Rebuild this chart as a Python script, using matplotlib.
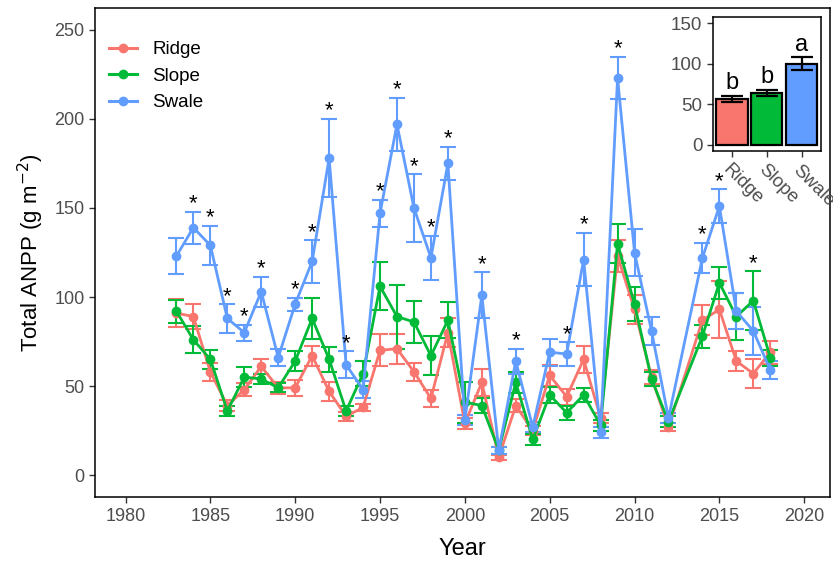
import matplotlib
matplotlib.use("Agg")
import matplotlib.pyplot as plt
from matplotlib.lines import Line2D
import numpy as np

plt.rcParams["font.family"] = ["Liberation Sans", "DejaVu Sans"]

years = [1983, 1984, 1985, 1986, 1987, 1988, 1989, 1990, 1991, 1992, 1993, 1994,
         1995, 1996, 1997, 1998, 1999, 2000, 2001, 2002, 2003, 2004, 2005, 2006,
         2007, 2008, 2009, 2010, 2011, 2012, 2014, 2015, 2016, 2017, 2018]

ridge = [91, 89, 58, 39, 48, 61, 49, 49, 67, 47, 33, 38,
         70, 71, 58, 43, 80, 29, 52, 10, 39, 25, 56, 44,
         65, 32, 123, 93, 55, 27, 87, 93, 64, 57, 69]
ridge_se = [8, 7, 5, 3, 3.5, 4, 3.5, 4.5, 5.5, 5.5, 2.5, 2,
            9, 8.5, 5, 4.5, 8, 3, 7.5, 1.5, 3.5, 2.5, 6, 4.5,
            7.5, 3, 9, 8, 4, 2.5, 8.5, 16, 5.5, 8, 6.5]

slope = [92, 76, 65, 36, 55, 54, 49, 64, 88, 65, 36, 57,
         106, 89, 86, 67, 87, 41, 39, 14, 52, 20, 45, 35,
         45, 28, 130, 96, 54, 30, 78, 108, 89, 98, 66]
slope_se = [6.5, 7.5, 5.5, 3, 5.5, 3, 2.5, 5.5, 11.5, 7, 3, 7,
            13.5, 18, 12, 11, 10, 11.5, 4, 2, 6, 3, 4.5, 4,
            4, 3, 11, 9.5, 4, 3, 6.5, 9, 13, 16.5, 4.5]

swale = [123, 139, 129, 88, 80, 103, 66, 96, 120, 178, 62, 48,
         147, 197, 150, 122, 175, 31, 101, 14, 64, 27, 69, 68,
         121, 24, 223, 125, 81, 32, 122, 151, 92, 81, 59]
swale_se = [10, 9, 11, 8, 4.5, 8.5, 5, 3.7, 12, 22, 7.5, 5,
            7.5, 15, 19, 12.5, 9.5, 3, 13, 2, 7, 3, 7.5, 6.5,
            15, 3, 12, 13, 8, 3, 8.5, 9.5, 10, 13.5, 5]

star_years = [1984, 1985, 1986, 1987, 1988, 1990, 1991, 1992, 1993, 1995, 1996,
              1997, 1998, 1999, 2001, 2003, 2006, 2007, 2009, 2014, 2015, 2017]

# inset: overall means
zones = ["Ridge", "Slope", "Swale"]
zone_mean = [57, 64, 100]
zone_se = [3.5, 4, 8]
zone_letters = ["b", "b", "a"]

colors = {"Ridge": "#F8766D", "Slope": "#00BA38", "Swale": "#619CFF"}
txt_gray = "#4D4D4D"

fig = plt.figure(figsize=(8.33, 5.63), dpi=100)
ax = fig.add_axes([0.114, 0.117, 0.882, 0.869])

series = [("Ridge", ridge, ridge_se), ("Slope", slope, slope_se), ("Swale", swale, swale_se)]
handles = []
for name, vals, se in series:
    ax.errorbar(years, vals, yerr=se, color=colors[name], lw=2, marker="o",
                markersize=6, capsize=6, capthick=1.5, elinewidth=1.5)
    handles.append(Line2D([], [], color=colors[name], lw=2.2, marker="o", markersize=6))

# asterisks above the highest error bar of each marked year
for yr in star_years:
    i = years.index(yr)
    top = max(ridge[i] + ridge_se[i], slope[i] + slope_se[i], swale[i] + swale_se[i])
    ax.text(yr, top - 1.5, "*", ha="center", va="bottom", fontsize=16, color="black")

ax.set_xlim(1978.2, 2021.5)
ax.set_ylim(-12.4, 262.4)
ax.set_xticks(range(1980, 2021, 5))
ax.set_yticks(range(0, 251, 50))
ax.tick_params(axis="both", colors="#333333", labelcolor=txt_gray, labelsize=13, length=4, width=1)
for s in ax.spines.values():
    s.set_linewidth(1.1)
    s.set_color("black")
ax.set_xlabel("Year", fontsize=17, labelpad=10)
ax.set_ylabel("Total ANPP (g m$^{-2}$)", fontsize=16, labelpad=6)

ax.legend(handles, [s[0] for s in series], loc="upper left", bbox_to_anchor=(0.009, 0.947),
          borderaxespad=0, frameon=False, fontsize=13.5, handlelength=1.5,
          handletextpad=0.8, labelspacing=0.5)

# inset bar chart
axi = fig.add_axes([0.8556, 0.7318, 0.1297, 0.2385])
xpos = np.arange(1, 4)
axi.bar(xpos, zone_mean, width=0.9, color=[colors[z] for z in zones],
        edgecolor="black", linewidth=1.6)
axi.errorbar(xpos, zone_mean, yerr=zone_se, fmt="none", ecolor="black",
             elinewidth=1.6, capsize=8, capthick=1.6)
for x, m, s, l in zip(xpos, zone_mean, zone_se, zone_letters):
    axi.text(x, m + s + 2, l, ha="center", va="bottom", fontsize=17)
axi.set_xlim(0.45, 3.55)
axi.set_ylim(-7.4, 158)
axi.set_yticks([0, 50, 100, 150])
axi.set_xticks(xpos)
axi.set_xticklabels(zones, rotation=-45, ha="left", va="top", rotation_mode="anchor")
axi.tick_params(axis="both", colors="#333333", labelcolor=txt_gray, labelsize=13.5, length=4, width=1)
for s in axi.spines.values():
    s.set_linewidth(1.1)

fig.savefig("out.png", dpi=100)
